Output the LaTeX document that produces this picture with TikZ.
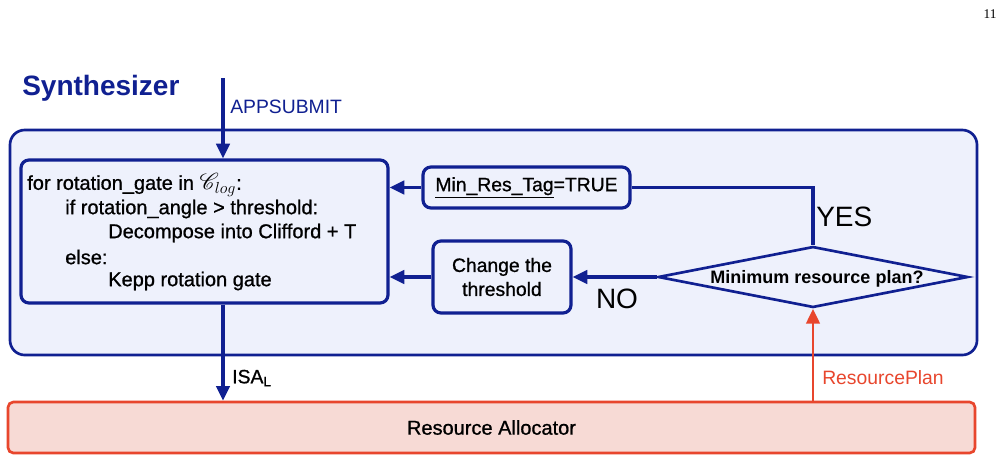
\documentclass[tikz,border=0pt]{standalone}
\usepackage{fontspec}
\setmainfont{Liberation Sans}
\newfontfamily\medfont{Liberation Sans}[FakeBold=0.9]
\newfontfamily\pagefont{Liberation Serif}
\usepackage{mathrsfs}
\usetikzlibrary{shapes.geometric,arrows.meta,fit}
\definecolor{dblue}{RGB}{16,32,145}
\definecolor{lblue}{RGB}{238,241,252}
\definecolor{rred}{RGB}{232,70,45}
\definecolor{lpink}{RGB}{247,218,213}
\begin{document}
\begin{tikzpicture}[x=0.75pt,y=-0.75pt,
  outerbox/.style={draw=dblue,line width=2pt,fill=lblue,rounded corners=11pt,inner sep=0pt},
  box/.style={draw=dblue,line width=2.4pt,fill=lblue,rounded corners=6pt,inner sep=0pt},
  rabox/.style={draw=rred,line width=2pt,fill=lpink,rounded corners=4pt,inner sep=0pt},
  arr/.style={draw=dblue,line width=2.4pt,-{Triangle[length=11pt,width=10pt]}},
  redarr/.style={draw=rred,line width=2.2pt,-{Triangle[length=11pt,width=10pt]}},
  plain/.style={draw=dblue,line width=2.4pt},
  code/.style={anchor=west,inner sep=0pt,font=\medfont\fontsize{15}{18}\selectfont},
  lbl/.style={anchor=west,inner sep=0pt,font=\fontsize{14.5}{17}\selectfont},
  big/.style={inner sep=0pt,font=\fontsize{21}{24}\selectfont}]
\useasboundingbox (0,0) rectangle (1004,462);
\fill[white] (0,0) rectangle (1004,462);

\node[inner sep=0pt,font=\pagefont\fontsize{10}{12}\selectfont] (pg) at (990,14) {11};

\node[outerbox,fit={(10,130) (977,355)}] (outer) {};
\node[anchor=west,inner sep=0pt,text=dblue,font=\bfseries\fontsize{21}{24}\selectfont] (synth) at (22,88) {Synthesizer};

\node[box,fit={(21,160) (388,303)}] (codebox) {};
\node[code] (l1) at (27,185) {for rotation\_gate in {\fontsize{18}{18}\selectfont$\mathscr{C}_{log}$}:};
\node[code] (l2) at (65,209) {if rotation\_angle > threshold:};
\node[code] (l3) at (108,233) {Decompose into Clifford + T};
\node[code] (l4) at (65,257) {else:};
\node[code] (l5) at (108,281) {Kepp rotation gate};

\node[box,fit={(423,167) (630,208)}] (minres) {};
\node[inner sep=0pt,font=\medfont\fontsize{14.5}{17}\selectfont] (minrestxt) at (minres.center) {\underline{Min\_Res\_Tag}=TRUE};

\node[box,fit={(433,241) (571,313)}] (chg) {};
\node[inner sep=0pt,align=center,font=\medfont\fontsize{14.5}{18}\selectfont] (chgtxt) at (chg.center) {Change the\\threshold};

\node[diamond,draw=dblue,line width=2pt,fill=lblue,aspect=5.08,inner sep=0pt,
      minimum width=232.5pt,minimum height=45.75pt] (dia) at (813,277) {};
\node[inner sep=0pt,font=\bfseries\fontsize{13.5}{16}\selectfont] (diatxt) at (817,279) {Minimum resource plan?};

\node[rabox,fit={(8,402) (975,453)}] (ra) {};
\node[inner sep=0pt,font=\medfont\fontsize{15}{18}\selectfont] (ratxt) at (ra.center) {Resource Allocator};

\coordinate (appin) at (223,78);
\draw[arr] (appin) -- (appin |- codebox.north);
\node[lbl,text=dblue] (app) at (230,107) {APPSUBMIT};

\draw[arr] (codebox.south -| appin) -- (ra.north -| appin);
\node[lbl,font=\medfont\fontsize{14.5}{17}\selectfont] (isa) at (232,378) {ISA\textsubscript{L}};

\draw[redarr] (ra.north -| dia.south) -- (dia.south);
\node[lbl,text=rred] (rp) at (822,378) {ResourcePlan};

\draw[arr] (minres.west) -- (codebox.east |- minres.west);
\draw[plain] (minres.east) -- (minres.east -| dia.north) -- (dia.north);
\node[big,anchor=west] (yes) at (816,217) {YES};

\draw[arr] (dia.west) -- (chg.east);
\node[big] (no) at (617,299) {NO};
\draw[arr] (chg.west) -- (codebox.east |- chg.west);
\end{tikzpicture}
\end{document}
